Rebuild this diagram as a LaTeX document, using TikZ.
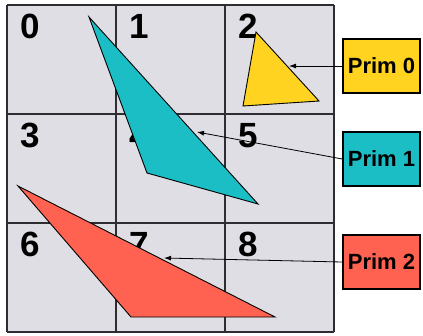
\documentclass[tikz,border=0pt]{standalone}
\usepackage{fontspec}
\setmainfont{Liberation Sans}
\usetikzlibrary{arrows.meta}

\definecolor{cellgray}{RGB}{222,222,228}
\definecolor{gridgray}{RGB}{45,45,50}
\definecolor{primyellow}{RGB}{255,211,32}
\definecolor{primcyan}{RGB}{28,190,198}
\definecolor{primred}{RGB}{255,98,80}

\tikzset{
    gridline/.style={draw=gridgray, line width=1.3pt},
    cellnum/.style={anchor=base west, inner sep=0pt, font=\bfseries\fontsize{35}{35}\selectfont},
    tri/.style={draw=black, line width=0.9pt, line join=miter},
    primbox/.style={draw=black, line width=1.4pt, minimum width=77pt, minimum height=54pt,
        inner sep=0pt, font=\bfseries\fontsize{22}{22}\selectfont},
    pointer/.style={draw=black, line width=0.8pt, -{Latex[length=7pt,width=5pt]}}
}

\begin{document}
\begin{tikzpicture}[x=1pt,y=-1pt]
    \useasboundingbox (0,0) rectangle (423,335);

    % Celdas de la rejilla
    \fill[cellgray] (7,5) rectangle (334,332);
    \foreach \i in {0,...,3} {
        \draw[gridline] (7+109*\i,5) -- (7+109*\i,332);
        \draw[gridline] (7,5+109*\i) -- (334,5+109*\i);
    }

    % Numeros de celda
    \foreach \n in {0,...,8} {
        \pgfmathtruncatemacro{\col}{mod(\n,3)}
        \pgfmathtruncatemacro{\row}{\n/3}
        \node[cellnum] (c\n) at (7+109*\col+13, 5+109*\row+33) {\n};
    }

    % Primitivas
    \filldraw[tri, fill=primyellow] (256,32) -- (243,106) -- (319,101) -- cycle;
    \filldraw[tri, fill=primcyan] (89,17) -- (147,173) -- (258,204) -- cycle;
    \filldraw[tri, fill=primred] (18,186) -- (131,317) -- (275,317) -- cycle;

    % Puntos de llegada
    \coordinate (t0) at (289,66);
    \coordinate (t1) at (197,132);
    \coordinate (t2) at (164,258);

    % Etiquetas
    \node[primbox, fill=primyellow] (p0) at (381.5,66) {Prim 0};
    \node[primbox, fill=primcyan] (p1) at (381.5,159) {Prim 1};
    \node[primbox, fill=primred] (p2) at (381.5,262) {Prim 2};

    % Flechas
    \draw[pointer] (p0.west) -- (t0);
    \draw[pointer] (p1.west) -- (t1);
    \draw[pointer] (p2.west) -- (t2);

\end{tikzpicture}
\end{document}
